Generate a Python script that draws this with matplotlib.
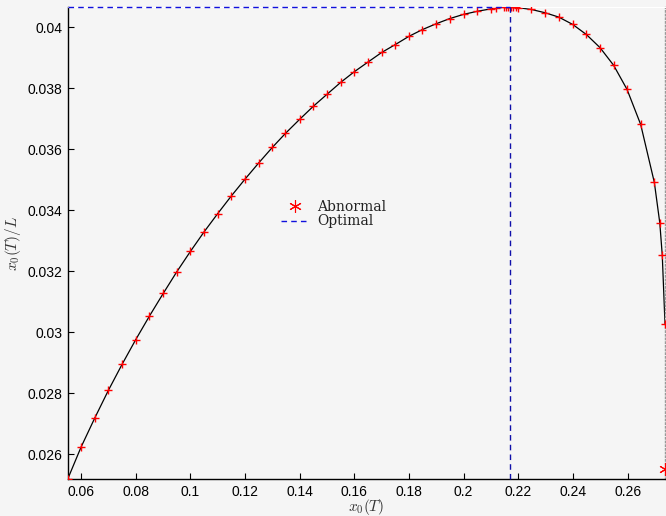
import matplotlib
matplotlib.use("Agg")
import matplotlib.pyplot as plt
import numpy as np

plt.rcParams['mathtext.fontset'] = 'cm'
plt.rcParams['font.family'] = ['Liberation Sans', 'DejaVu Sans']

# Normal extremal trajectory end points
x_curve = [0.0551, 0.0600, 0.0650, 0.0700, 0.0750, 0.0800, 0.0850, 0.0901, 0.0950,
           0.1000, 0.1050, 0.1100, 0.1150, 0.1200, 0.1250, 0.1300, 0.1348, 0.1400,
           0.1449, 0.1500, 0.1550, 0.1600, 0.1649, 0.1700, 0.1750, 0.1800, 0.1849,
           0.1899, 0.1949, 0.2000, 0.2050, 0.2100, 0.2117, 0.2147, 0.2156, 0.2164,
           0.2173, 0.2181, 0.2190, 0.2198, 0.2248, 0.2299, 0.2348, 0.2399, 0.2449,
           0.2499, 0.2549, 0.2598, 0.2648, 0.2698, 0.2718, 0.2727, 0.2737]
y_curve = [0.02519, 0.02624, 0.02719, 0.02810, 0.02895, 0.02976, 0.03053, 0.03128, 0.03198,
           0.03265, 0.03329, 0.03389, 0.03447, 0.03502, 0.03555, 0.03606, 0.03652, 0.03698,
           0.03740, 0.03780, 0.03819, 0.03854, 0.03885, 0.03917, 0.03943, 0.03970, 0.03992,
           0.04011, 0.04028, 0.04042, 0.04052, 0.04060, 0.04063, 0.04065, 0.04066, 0.04066,
           0.04066, 0.04066, 0.04065, 0.04064, 0.04058, 0.04047, 0.04033, 0.04009, 0.03976,
           0.03933, 0.03875, 0.03796, 0.03681, 0.03491, 0.03358, 0.03252, 0.03027]

# Abnormal point
abn_x = [0.2736]
abn_y = [0.02553]

# Optimal point
opt_x = 0.2168
opt_y = 0.04066

xticks = [0.06, 0.08, 0.10, 0.12, 0.14, 0.16, 0.18, 0.20, 0.22, 0.24, 0.26]
xticklabels = ['0.06', '0.08', '0.1', '0.12', '0.14', '0.16', '0.18', '0.2', '0.22', '0.24', '0.26']
yticks = [0.026, 0.028, 0.030, 0.032, 0.034, 0.036, 0.038, 0.040]
yticklabels = ['0.026', '0.028', '0.03', '0.032', '0.034', '0.036', '0.038', '0.04']

bg = '#f5f5f5'
fig = plt.figure(figsize=(6.66, 5.16), dpi=100, facecolor=bg)
ax = fig.add_axes([0.1017, 0.0717, 0.8968, 0.9147], facecolor=bg)

ax.plot(x_curve, y_curve, color='black', lw=0.9, zorder=2)
ax.plot(x_curve, y_curve, ls='none', marker='+', color='red', ms=6, mew=1.0, zorder=3)
ax.plot(abn_x, abn_y, ls='none', marker=(6, 2, 0), color='red', ms=9, mew=0.8,
        zorder=4, clip_on=False, label='Abnormal')
xmin, xmax = min(x_curve), max(x_curve)
ymin, ymax = min(y_curve), max(y_curve)
ax.plot([xmin, opt_x], [opt_y, opt_y], color='#1010dd', ls='--', lw=1.0,
        dashes=(4, 3), clip_on=False, zorder=5, label='Optimal')
ax.plot([opt_x, opt_x], [ymin, opt_y], color='#1010aa', ls='--', lw=1.0,
        dashes=(4, 3), clip_on=False, zorder=5)

ax.set_xlim(xmin, xmax)
ax.set_ylim(ymin, ymax)
ax.set_xticks(xticks)
ax.set_xticklabels(xticklabels)
ax.set_yticks(yticks)
ax.set_yticklabels(yticklabels)
ax.tick_params(direction='in', length=4, width=0.8, labelsize=10, colors='black', pad=4)

for s in ['left', 'bottom']:
    ax.spines[s].set_color('black')
    ax.spines[s].set_linewidth(1.0)
ax.spines['top'].set_color('white')
ax.spines['right'].set_color('#999999')
ax.spines['right'].set_linestyle(':')
ax.spines['right'].set_linewidth(1.0)

ax.set_xlabel(r'$x_0(T)$', fontsize=11, color='#333333', labelpad=-1)
ax.set_ylabel(r'$x_0(T)/L$', fontsize=11, color='#333333', labelpad=3)

leg = ax.legend(loc='center left', bbox_to_anchor=(281.0 / 666, 0.585),
                bbox_transform=fig.transFigure, frameon=False, borderpad=0,
                borderaxespad=0, handlelength=2.0, handletextpad=0.6,
                labelspacing=0.05, prop={'family': 'DejaVu Serif', 'size': 10})
for t in leg.get_texts():
    t.set_color('#222222')

fig.savefig('out.png', dpi=100, facecolor=bg)
